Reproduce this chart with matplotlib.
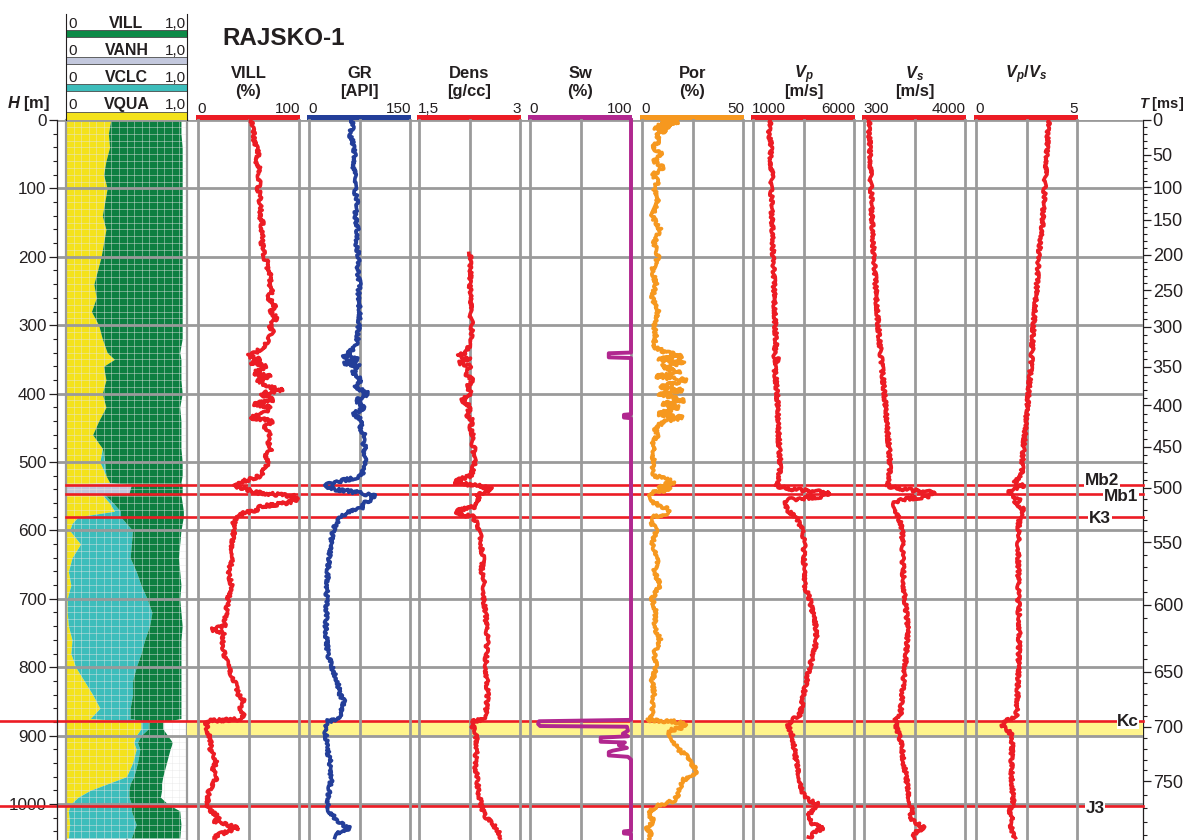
"""
Well log panel for RAJSKO-1: lithology fractions, petrophysical curves and
elastic logs against depth, with a two-way-time scale on the right.
"""

import numpy as np
import matplotlib.pyplot as plt
from matplotlib import font_manager
from matplotlib.patches import Rectangle
from matplotlib.lines import Line2D
from matplotlib.ticker import MultipleLocator

W, H, DPI = 1184, 840, 100


def pick_font(names):
    installed = {f.name for f in font_manager.fontManager.ttflist}
    for n in names:
        if n in installed:
            return n
    return 'DejaVu Sans'


FONT = pick_font(['Liberation Sans Narrow', 'Liberation Sans', 'DejaVu Sans'])
# narrow face is not always installed; shrink the regular one to keep widths
FS = 1.0 if 'Narrow' in FONT else 0.88

plt.rcParams['font.family'] = [FONT, 'DejaVu Sans']
plt.rcParams['mathtext.fontset'] = 'custom'
plt.rcParams['mathtext.it'] = f'{FONT}:italic:bold'
plt.rcParams['mathtext.rm'] = f'{FONT}:bold'
plt.rcParams['mathtext.bf'] = f'{FONT}:bold'

# ---------------------------------------------------------------- data
# lithology: depth [m], VQUA, VCLC, VANH, VILL (volume fractions)
lith_log = [
    (0, 0.37, 0, 0, 0.58), (20, 0.35, 0, 0, 0.60), (40, 0.36, 0, 0, 0.60),
    (60, 0.33, 0, 0, 0.63), (80, 0.31, 0, 0, 0.65), (100, 0.34, 0, 0, 0.62),
    (120, 0.32, 0, 0, 0.64), (140, 0.30, 0, 0, 0.66), (160, 0.33, 0, 0, 0.63),
    (180, 0.31, 0, 0, 0.65), (200, 0.29, 0, 0, 0.67), (220, 0.26, 0, 0, 0.70),
    (240, 0.23, 0, 0, 0.73), (260, 0.25, 0, 0, 0.71), (280, 0.21, 0, 0, 0.75),
    (300, 0.27, 0, 0, 0.69), (320, 0.30, 0, 0, 0.66), (340, 0.34, 0, 0, 0.60),
    (350, 0.40, 0, 0, 0.55), (360, 0.31, 0, 0, 0.64), (380, 0.33, 0, 0, 0.62),
    (400, 0.30, 0, 0, 0.66), (420, 0.33, 0, 0, 0.61), (440, 0.27, 0, 0, 0.68),
    (460, 0.22, 0, 0, 0.73), (480, 0.30, 0, 0, 0.65), (500, 0.28, 0.04, 0, 0.64),
    (520, 0.33, 0, 0, 0.63), (530, 0.36, 0, 0, 0.59), (533, 0, 0, 0.54, 0.42),
    (546, 0, 0, 0.52, 0.44), (548, 0.30, 0.02, 0, 0.63), (560, 0.36, 0.03, 0, 0.57),
    (572, 0.40, 0.05, 0, 0.52), (580, 0.10, 0.35, 0, 0.52), (590, 0.05, 0.45, 0, 0.46),
    (600, 0.03, 0.52, 0, 0.40), (620, 0.12, 0.42, 0, 0.40), (640, 0.05, 0.48, 0, 0.40),
    (660, 0.02, 0.56, 0, 0.36), (680, 0.04, 0.58, 0, 0.33), (700, 0.01, 0.66, 0, 0.27),
    (720, 0.01, 0.70, 0, 0.24), (740, 0.02, 0.67, 0, 0.27), (760, 0.05, 0.60, 0, 0.30),
    (780, 0.04, 0.58, 0, 0.33), (800, 0.08, 0.50, 0, 0.37), (820, 0.15, 0.40, 0, 0.40),
    (840, 0.22, 0.33, 0, 0.40), (860, 0.28, 0.25, 0, 0.42), (875, 0.20, 0.33, 0, 0.42),
    (880, 0.62, 0.06, 0, 0.12), (890, 0.62, 0.06, 0, 0.12), (900, 0.58, 0.04, 0, 0.22),
    (910, 0.56, 0.03, 0, 0.29), (920, 0.58, 0.03, 0, 0.25), (940, 0.55, 0.04, 0, 0.24),
    (960, 0.50, 0.06, 0, 0.24), (970, 0.35, 0.18, 0, 0.26), (980, 0.20, 0.32, 0, 0.27),
    (990, 0.10, 0.42, 0, 0.26), (1000, 0.04, 0.50, 0, 0.30), (1010, 0.02, 0.52, 0, 0.40),
    (1030, 0.03, 0.55, 0, 0.37), (1050, 0.02, 0.52, 0, 0.40),
]
lith_names = ['VILL', 'VANH', 'VCLC', 'VQUA']

vill_log = [
    (0, 52), (10, 54), (20, 56), (30, 55), (40, 58), (50, 60), (60, 57), (70, 61),
    (80, 58), (90, 62), (100, 59), (110, 62), (120, 60), (130, 63), (140, 61),
    (150, 64), (160, 62), (170, 65), (180, 63), (190, 66), (200, 64), (210, 70),
    (220, 68), (230, 73), (240, 70), (250, 74), (260, 69), (270, 77), (280, 72),
    (290, 78), (300, 71), (310, 74), (320, 70), (330, 66), (340, 57), (345, 50),
    (350, 62), (355, 52), (360, 68), (370, 55), (375, 72), (380, 58), (390, 70),
    (395, 84), (400, 62), (410, 75), (415, 55), (420, 72), (430, 64), (435, 52),
    (440, 74), (450, 65), (460, 72), (470, 68), (480, 73), (490, 67), (500, 70),
    (510, 66), (520, 62), (525, 52), (530, 40), (535, 36), (540, 48), (545, 60),
    (550, 95), (555, 98), (560, 88), (565, 62), (570, 58), (575, 45), (580, 40),
    (590, 35), (600, 36), (620, 33), (640, 35), (660, 30), (680, 33), (700, 30),
    (720, 28), (740, 26), (745, 14), (750, 27), (760, 24), (780, 26), (800, 30),
    (820, 36), (840, 40), (850, 46), (860, 42), (870, 45), (876, 40), (879, 8),
    (890, 9), (900, 11), (910, 13), (920, 12), (930, 16), (940, 18), (950, 14),
    (960, 19), (970, 15), (980, 11), (990, 10), (1000, 9), (1010, 12), (1020, 22),
    (1025, 15), (1030, 28), (1035, 40), (1040, 30), (1045, 20), (1050, 16),
]

gr_log = [
    (0, 62), (10, 66), (20, 60), (30, 64), (50, 68), (70, 66), (90, 70), (100, 68),
    (120, 71), (140, 69), (160, 72), (180, 70), (200, 74), (220, 72), (240, 75),
    (260, 73), (280, 76), (300, 74), (320, 72), (330, 70), (340, 60), (345, 50),
    (350, 72), (355, 52), (360, 75), (370, 64), (380, 78), (390, 68), (400, 88),
    (410, 70), (420, 82), (430, 66), (440, 80), (450, 76), (460, 82), (470, 80),
    (480, 84), (490, 81), (500, 84), (510, 82), (520, 78), (525, 60), (530, 35),
    (535, 24), (540, 40), (545, 75), (550, 98), (555, 92), (560, 80), (565, 82),
    (570, 70), (575, 55), (580, 48), (590, 40), (600, 36), (620, 32), (640, 30),
    (660, 28), (680, 27), (700, 26), (720, 26), (740, 25), (760, 26), (780, 28),
    (800, 34), (820, 42), (840, 46), (850, 52), (860, 48), (870, 50), (876, 46),
    (879, 27), (890, 24), (900, 25), (920, 27), (940, 32), (950, 30), (960, 34),
    (980, 30), (1000, 28), (1010, 30), (1020, 38), (1030, 50), (1035, 60),
    (1040, 45), (1050, 40),
]

dens_log = [
    (195, 2.24), (200, 2.26), (220, 2.27), (240, 2.25), (260, 2.28), (280, 2.26),
    (300, 2.29), (320, 2.27), (330, 2.25), (340, 2.20), (345, 2.08), (350, 2.26),
    (355, 2.10), (360, 2.28), (370, 2.18), (380, 2.29), (390, 2.22), (400, 2.27),
    (410, 2.14), (420, 2.28), (430, 2.20), (440, 2.30), (450, 2.26), (460, 2.30),
    (470, 2.28), (480, 2.32), (490, 2.30), (500, 2.33), (510, 2.30), (520, 2.28),
    (525, 2.12), (530, 2.02), (535, 2.40), (540, 2.58), (545, 2.44), (550, 2.36),
    (555, 2.40), (560, 2.32), (565, 2.34), (570, 2.10), (575, 2.05), (580, 2.30),
    (590, 2.36), (600, 2.40), (620, 2.42), (640, 2.45), (660, 2.43), (680, 2.47),
    (700, 2.46), (720, 2.49), (740, 2.50), (760, 2.52), (780, 2.50), (800, 2.49),
    (820, 2.51), (840, 2.52), (860, 2.50), (870, 2.49), (876, 2.45), (879, 2.30),
    (885, 2.28), (890, 2.33), (900, 2.35), (920, 2.36), (940, 2.33), (960, 2.36),
    (980, 2.38), (1000, 2.42), (1010, 2.45), (1020, 2.50), (1030, 2.60),
    (1040, 2.68), (1050, 2.72),
]

sw_log = [
    (0, 100), (340, 100), (341, 78), (347, 78), (348, 100), (430, 100), (431, 93),
    (435, 93), (436, 100), (877, 100), (879, 9), (883, 8), (886, 10), (887, 96),
    (893, 97), (897, 92), (901, 97), (903, 70), (909, 70), (910, 94), (914, 88),
    (918, 96), (922, 82), (924, 78), (929, 78), (931, 97), (935, 100), (1039, 100),
    (1040, 93), (1043, 93), (1044, 100), (1050, 100),
]

por_log = [
    (0, 10), (3, 18), (6, 8), (9, 14), (12, 6), (15, 12), (20, 7), (30, 9), (40, 5),
    (50, 10), (60, 6), (70, 11), (80, 5), (90, 8), (100, 6), (120, 8), (140, 5),
    (160, 9), (180, 6), (200, 8), (220, 5), (240, 7), (260, 5), (280, 8), (300, 6),
    (320, 7), (330, 5), (340, 12), (345, 20), (350, 8), (355, 21), (360, 10),
    (370, 19), (375, 7), (380, 22), (390, 9), (395, 20), (400, 8), (410, 21),
    (415, 10), (420, 18), (430, 8), (435, 20), (440, 12), (450, 6), (460, 8),
    (470, 5), (480, 7), (490, 5), (500, 6), (510, 5), (520, 6), (525, 12), (530, 16),
    (535, 8), (540, 14), (545, 5), (550, 4), (560, 6), (570, 14), (575, 12), (580, 6),
    (590, 5), (600, 7), (620, 5), (640, 8), (660, 6), (680, 9), (700, 5), (720, 7),
    (740, 6), (760, 9), (780, 6), (800, 7), (820, 5), (840, 6), (860, 5), (870, 5),
    (877, 3), (880, 18), (884, 22), (888, 20), (893, 13), (900, 14), (910, 16),
    (920, 18), (930, 22), (940, 24), (950, 27), (958, 26), (965, 20), (975, 19),
    (985, 18), (995, 16), (1000, 10), (1005, 6), (1015, 3), (1025, 6), (1035, 2),
    (1045, 5), (1050, 3),
]

vp_log = [
    (0, 1850), (20, 1800), (40, 1900), (60, 1850), (80, 1950), (100, 1900),
    (150, 1950), (200, 2000), (250, 2050), (300, 2100), (330, 2150), (345, 2000),
    (350, 2250), (355, 2050), (400, 2200), (450, 2250), (480, 2300), (500, 2350),
    (520, 2300), (530, 2250), (535, 2150), (540, 3000), (545, 4800), (550, 4500),
    (555, 2800), (560, 2600), (570, 2700), (580, 3100), (590, 3300), (600, 3450),
    (620, 3550), (640, 3500), (660, 3600), (680, 3550), (700, 3800), (720, 3950),
    (740, 4100), (760, 4150), (780, 4000), (800, 3800), (820, 3650), (840, 3500),
    (860, 3400), (870, 3300), (878, 2900), (885, 2700), (890, 2800), (900, 2950),
    (920, 3050), (940, 3150), (960, 3300), (980, 3400), (990, 3600), (995, 3800),
    (1000, 4200), (1010, 3900), (1020, 3700), (1030, 4000), (1035, 4500),
    (1040, 4100), (1050, 3800),
]

vs_log = [
    (0, 480), (50, 520), (100, 560), (150, 600), (200, 660), (250, 740), (300, 820),
    (350, 930), (400, 1050), (450, 1150), (480, 1220), (500, 1250), (520, 1230),
    (530, 1200), (535, 1150), (540, 1800), (545, 2900), (550, 2700), (555, 1600),
    (560, 1400), (570, 1450), (580, 1550), (590, 1650), (600, 1700), (640, 1720),
    (680, 1750), (700, 1800), (720, 1850), (740, 1900), (760, 1880), (780, 1850),
    (800, 1800), (820, 1750), (840, 1700), (860, 1650), (870, 1650), (878, 1450),
    (890, 1500), (900, 1600), (920, 1700), (940, 1750), (960, 1850), (980, 1900),
    (1000, 2000), (1010, 2100), (1020, 1950), (1030, 2300), (1035, 2500),
    (1040, 2200), (1050, 2100),
]

vpvs_log = [
    (0, 3.6), (50, 3.5), (100, 3.4), (150, 3.3), (200, 3.1), (250, 3.0), (300, 2.85),
    (350, 2.75), (400, 2.6), (450, 2.45), (480, 2.35), (500, 2.3), (520, 2.25),
    (530, 1.9), (535, 2.4), (540, 1.7), (545, 1.65), (550, 1.8), (555, 2.2),
    (560, 1.9), (570, 2.4), (580, 2.15), (600, 2.1), (650, 2.1), (700, 2.1),
    (750, 2.15), (800, 2.1), (850, 2.05), (870, 2.0), (878, 1.55), (885, 1.25),
    (890, 1.5), (900, 1.8), (950, 1.75), (1000, 1.85), (1010, 1.6), (1020, 1.9),
    (1030, 1.7), (1040, 1.8), (1050, 1.9),
]

track_names = ['VILL', 'GR', 'Dens', 'Sw', 'Por', '$V_p$', '$V_s$', '$V_p/V_s$']
track_units = ['(%)', '[API]', '[g/cc]', '(%)', '(%)', '[m/s]', '[m/s]', '']
track_min = [0, 0, 1.5, 0, 0, 1000, 300, 0]
track_max = [100, 150, 3.0, 100, 50, 6000, 4000, 5]
scale_min_labels = ['0', '0', '1,5', '0', '0', '1000', '300', '0']
scale_max_labels = ['100', '150', '3', '100', '50', '6000', '4000', '5']
track_logs = [vill_log, gr_log, dens_log, sw_log, por_log, vp_log, vs_log, vpvs_log]

# formation tops [m]
tops_name = ['Mb2', 'Mb1', 'K3', 'Kc', 'J3']
tops_depth = [533.5, 547, 580, 878, 1002.5]
band_top, band_base = 878, 900

# time-depth pairs for the two-way-time scale
twt_ms = [0, 50, 100, 150, 200, 250, 300, 350, 400, 450, 500, 550, 600, 650, 700, 750, 800]
twt_depth = [0, 51, 98, 146, 197, 249, 302, 361, 417, 478, 538, 617, 709, 807, 887, 967, 1065]

# ---------------------------------------------------------------- style
RED = '#ec1c24'
BLUE = '#233e99'
PURPLE = '#b1278f'
ORANGE = '#f6981f'
GRID = '#9a9a9a'
INK = '#231f20'
BAND = '#fff48c'
lith_colors = ['#f4e21b', '#3dbdbb', '#c3c8dd', '#0d7f41']   # quartz, calcite, anhydrite, illite
header_bar_colors = ['#0d8a47', '#c3c8dd', '#3dbdbb', '#f4e21b']
curve_colors = [RED, BLUE, RED, PURPLE, ORANGE, RED, RED, RED]

PX_TOP, PX_PER_M = 120, 0.684
DEPTH_MAX = (H - PX_TOP) / PX_PER_M
TRACK_LEFT = [198, 309, 419, 530, 642, 753, 864, 976]
TRACK_W = 101
LITH_X0, LITH_X1 = 66, 187
AX_X0, AX_X1 = 57, 1143


def fig_box(x0, y0, x1, y1):
    return [x0 / W, 1 - y1 / H, (x1 - x0) / W, (y1 - y0) / H]


fig = plt.figure(figsize=(W / DPI, H / DPI), dpi=DPI)


def ftext(x, y, s, size, **kw):
    kw.setdefault('color', INK)
    fig.text(x / W, 1 - y / H, s, fontsize=size * FS, **kw)


def frect(x0, y0, x1, y1, **kw):
    fig.add_artist(Rectangle((x0 / W, 1 - y1 / H), (x1 - x0) / W, (y1 - y0) / H,
                             transform=fig.transFigure, **kw))


def fline(xs, ys, **kw):
    fig.add_artist(Line2D([x / W for x in xs], [1 - y / H for y in ys],
                          transform=fig.transFigure, **kw))


# ---------------------------------------------------------------- lithology track
ax_lith = fig.add_axes(fig_box(LITH_X0, PX_TOP, LITH_X1, H), zorder=0)
ax_lith.set_xlim(0, 1)
ax_lith.set_ylim(DEPTH_MAX, 0)
ax_lith.axis('off')
ax_lith.axvline(0.5, color=GRID, lw=1.4, zorder=0)

lith = np.array(lith_log, dtype=float)
lith_depth = lith[:, 0]
lith_edges = np.cumsum(lith[:, 1:], axis=1)
left = np.zeros_like(lith_depth)
for k, color in enumerate(lith_colors):
    ax_lith.fill_betweenx(lith_depth, left, lith_edges[:, k], color=color, lw=0, zorder=1)
    left = lith_edges[:, k]

# fine mesh over the fractions
for xm in np.arange(1, 16) / 16:
    ax_lith.axvline(xm, color='#e6e6e6', lw=0.7, alpha=0.45, zorder=2)
for dm in np.arange(10, 1060, 10):
    ax_lith.axhline(dm, color='#e6e6e6', lw=0.7, alpha=0.45, zorder=2)
for xb in (0, 1):
    ax_lith.axvline(xb, color=GRID, lw=1.6, zorder=3, clip_on=False)

# ---------------------------------------------------------------- depth frame
ax = fig.add_axes(fig_box(AX_X0, PX_TOP, AX_X1, H), zorder=1)
ax.patch.set_visible(False)
ax.set_xlim(AX_X0, AX_X1)
ax.set_ylim(DEPTH_MAX, 0)
for side in ('top', 'bottom', 'right'):
    ax.spines[side].set_visible(False)
ax.spines['left'].set_linewidth(0.9)
ax.spines['left'].set_color(INK)
ax.set_xticks([])
ax.yaxis.set_major_locator(MultipleLocator(100))
ax.yaxis.set_minor_locator(MultipleLocator(20))
ax.tick_params(axis='y', which='major', direction='out', length=5.5, width=0.9,
               labelsize=14 * FS, pad=2, colors=INK)
ax.tick_params(axis='y', which='minor', direction='out', length=3, width=0.8, colors=INK)

ax.fill_between([LITH_X1, AX_X1], [band_top, band_top], [band_base, band_base],
                color=BAND, lw=0, zorder=0.5)
ax.hlines(np.arange(0, 1001, 100), AX_X0, AX_X1, colors=GRID, lw=2.0, zorder=1)

tops_line_start = [LITH_X0, LITH_X0, LITH_X0, 0, 0]
tops_label_x = [1102, 1121, 1100, 1128, 1095]
tops_label_dy = [-6, 4, 2, 1, 4]
for name, d, x0, lx, dy in zip(tops_name, tops_depth, tops_line_start,
                               tops_label_x, tops_label_dy):
    ax.plot([x0, AX_X1], [d, d], color=RED, lw=1.9, zorder=2, clip_on=False)
    ax.text(lx, d + dy, name, ha='center', va='center', fontsize=14 * FS,
            fontweight='bold', color=INK, zorder=4,
            bbox=dict(facecolor='white', edgecolor='none', pad=0.4))


def depth_to_twt(d):
    return np.interp(d, twt_depth, twt_ms)


def twt_to_depth(t):
    return np.interp(t, twt_ms, twt_depth)


ax_t = ax.secondary_yaxis('right', functions=(depth_to_twt, twt_to_depth))
ax_t.spines['right'].set_linewidth(0.9)
ax_t.spines['right'].set_color(INK)
ax_t.set_yticks(np.arange(0, 751, 50))
ax_t.set_yticks(np.arange(0, 791, 10), minor=True)
ax_t.tick_params(which='major', direction='out', length=5.5, width=0.9, labelsize=13,
                 pad=1.5, colors=INK)
ax_t.tick_params(which='minor', direction='out', length=3, width=0.8, colors=INK)

# ---------------------------------------------------------------- log tracks
for i, log in enumerate(track_logs):
    x0 = TRACK_LEFT[i]
    x1 = x0 + TRACK_W
    axt = fig.add_axes(fig_box(x0, PX_TOP, x1, H), zorder=2)
    axt.patch.set_visible(False)
    axt.axis('off')
    axt.set_xlim(track_min[i], track_max[i])
    axt.set_ylim(DEPTH_MAX, 0)
    mid = (track_min[i] + track_max[i]) / 2
    for xv in (track_min[i], mid, track_max[i]):
        axt.axvline(xv, color=GRID, lw=2.0, zorder=1, clip_on=False)

    depth, value = np.array(log, dtype=float).T
    lw = 2.8 if track_names[i] == 'Sw' else 2.6
    line, = axt.plot(value, depth, color=curve_colors[i], lw=lw, zorder=3, clip_on=False)
    if track_names[i] != 'Sw':
        # ragged trace, like a raw log sampled every few cm
        line.set_sketch_params(scale=1.6, length=3, randomness=12)

    # header: scale bar, scale limits, curve name and unit
    frect(x0 - 2, 115, x1 + 1, 120.5, facecolor=curve_colors[i], edgecolor='none')
    cx = (x0 + x1) / 2
    ftext(cx, 78, track_names[i], 13.5, ha='center', va='baseline', fontweight='bold')
    if track_units[i]:
        ftext(cx, 96, track_units[i], 13.5, ha='center', va='baseline', fontweight='bold')
    ftext(x0 - 1, 113, scale_min_labels[i], 12.5, ha='left', va='baseline')
    ftext(x1 + 1, 113, scale_max_labels[i], 12.5, ha='right', va='baseline')

# ---------------------------------------------------------------- lithology header
row_baselines = [28, 55, 82, 109]
row_bars = [(30, 37), (57, 64), (84, 91), (111.5, 120)]
fline([LITH_X0, LITH_X0], [14, 120], color=INK, lw=0.8)
fline([LITH_X1, LITH_X1], [14, 120], color=INK, lw=0.8)
for name, yb, (b0, b1), c in zip(lith_names, row_baselines, row_bars, header_bar_colors):
    ftext(LITH_X0 + 2, yb, '0', 12.5, ha='left', va='baseline')
    ftext((LITH_X0 + LITH_X1) / 2, yb, name, 13, ha='center', va='baseline',
          fontweight='bold')
    ftext(LITH_X1 - 1, yb, '1,0', 12.5, ha='right', va='baseline')
    frect(LITH_X0, b0, LITH_X1, b1, facecolor=c, edgecolor='#4a4a4a', lw=0.6)

# ---------------------------------------------------------------- titles
ftext(222, 45, 'RAJSKO-1', 17.5 / FS, ha='left', va='baseline', fontweight='bold')
ftext(50, 108, '$H$ [m]', 13.5, ha='right', va='baseline', fontweight='bold')
ftext(1139, 108, '$T$ [ms]', 12, ha='left', va='baseline', fontweight='bold')

fig.savefig('out.png', dpi=DPI)
